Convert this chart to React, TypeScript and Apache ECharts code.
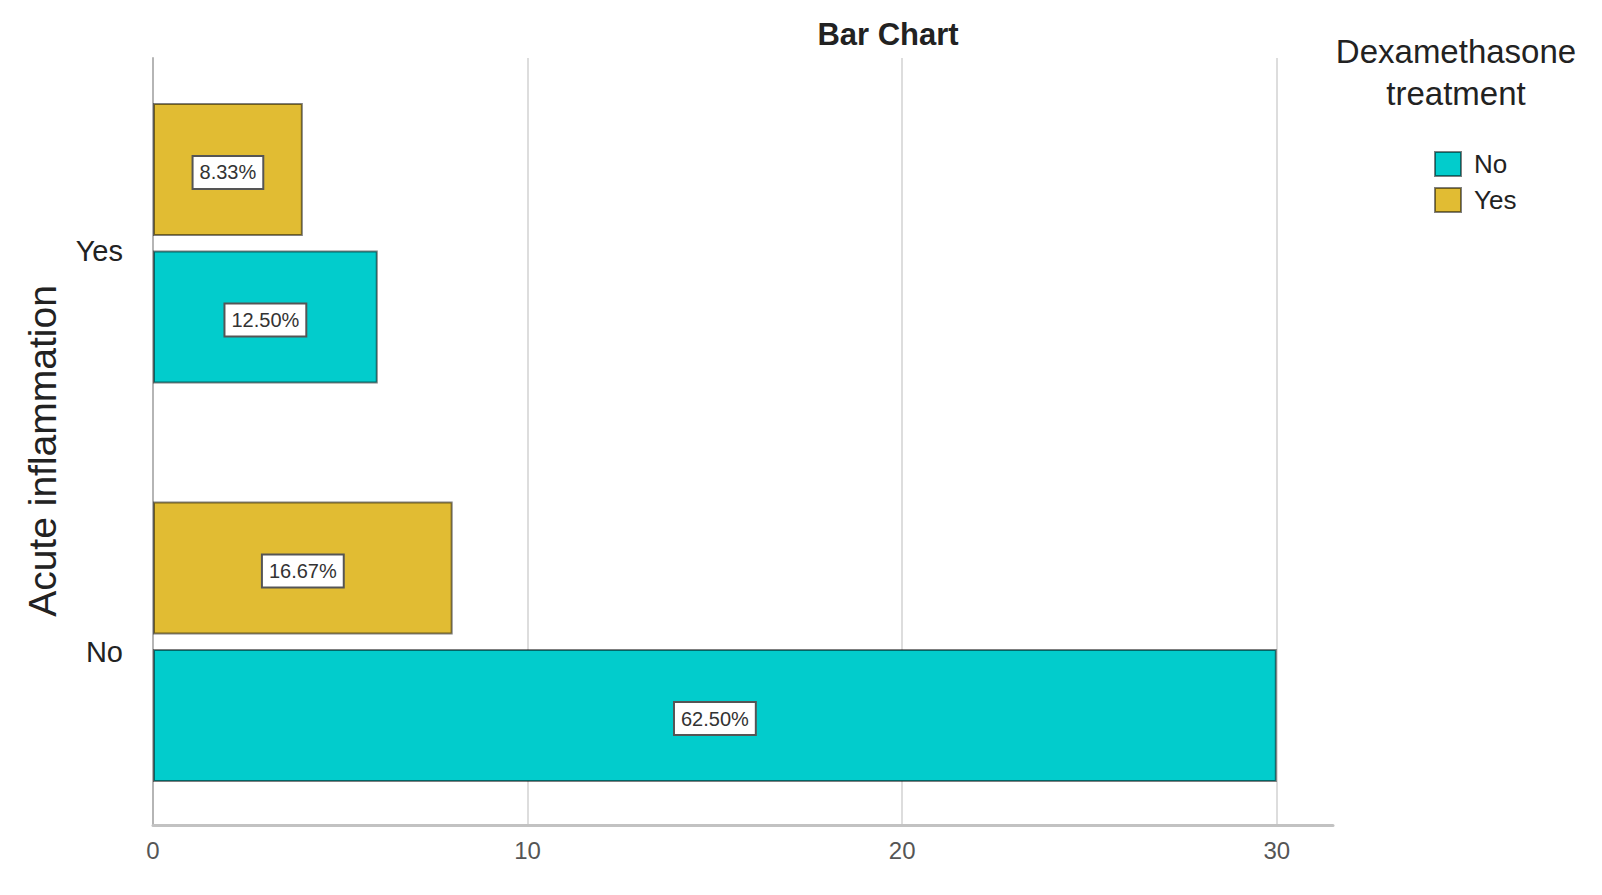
import React, { useEffect, useRef } from "react";
import * as echarts from "echarts";

const categories = ["No", "Yes"]; // Acute inflammation (bottom to top)
const seriesNames = ["No", "Yes"]; // Dexamethasone treatment
const countsDexNo = [30, 6];
const countsDexYes = [8, 4];
const xTicks = [0, 10, 20, 30];

const FONT = "'Liberation Sans', Arial, Helvetica, sans-serif";
const total = [...countsDexNo, ...countsDexYes].reduce((a, b) => a + b, 0);

export default function App() {
  const ref = useRef<HTMLDivElement>(null);
  useEffect(() => {
    if (!ref.current) return;
    const chart = echarts.init(ref.current, undefined, { renderer: "svg" });
    const labelCfg = {
      show: true,
      position: "inside",
      offset: [0, 3],
      formatter: (p: any) => ((p.value / total) * 100).toFixed(2) + "%",
      fontSize: 20,
      fontFamily: FONT,
      color: "#333",
      backgroundColor: "#ffffff",
      borderColor: "#555",
      borderWidth: 2,
      padding: [6, 6, 5, 6],
    };
    chart.setOption({
      animation: false,
      backgroundColor: "#ffffff",
      textStyle: { fontFamily: FONT },
      grid: [
        { left: 153, top: 58, width: 1180, height: 767 },
        { left: 153, top: 44, width: 1180, height: 797 },
        { left: 153, top: 50, width: 1180, height: 802 },
      ],
      xAxis: [
        {
          type: "value",
          gridIndex: 0,
          min: xTicks[0],
          max: 31.5,
          interval: xTicks[1] - xTicks[0],
          axisLine: { show: true, lineStyle: { color: "#c2c2c2", width: 3 } },
          axisTick: { show: false },
          splitLine: {
            show: true,
            showMinLine: false,
            showMaxLine: false,
            lineStyle: { color: "#d2d2d2", width: 1.5 },
          },
          axisLabel: {
            show: true,
            fontSize: 24,
            color: "#555",
            margin: 13,
            showMaxLabel: false,
            fontFamily: FONT,
          },
        },
        { type: "value", gridIndex: 1, min: xTicks[0], max: 31.5, show: false },
        { type: "value", gridIndex: 2, min: xTicks[0], max: 31.5, show: false },
      ],
      yAxis: [
        {
          type: "value",
          gridIndex: 0,
          axisLine: { show: true, lineStyle: { color: "#b5b5b5", width: 2 } },
          axisTick: { show: false },
          axisLabel: { show: false },
          splitLine: { show: false },
        },
        {
          type: "category",
          gridIndex: 1,
          data: categories,
          axisLine: { show: false },
          axisTick: { show: false },
          axisLabel: { show: false },
        },
        {
          type: "category",
          gridIndex: 2,
          data: categories,
          axisLine: { show: false },
          axisTick: { show: false },
          splitLine: { show: false },
          axisLabel: { fontSize: 29, color: "#222", margin: 30, fontFamily: FONT },
          name: "Acute inflammation",
          nameLocation: "middle",
          nameRotate: 90,
          nameGap: 91,
          nameTextStyle: { fontSize: 39, color: "#222", fontFamily: FONT },
        },
      ],
      legend: {
        orient: "vertical",
        left: 1434,
        top: 151,
        padding: 0,
        itemWidth: 26,
        itemHeight: 24,
        itemGap: 10,
        icon: "rect",
        data: seriesNames,
        textStyle: { fontSize: 26, color: "#222", fontFamily: FONT, padding: [0, 0, 0, 8] },
      },
      graphic: [
        {
          type: "text",
          x: 888,
          y: 34,
          style: {
            text: "Bar Chart",
            textAlign: "center",
            textVerticalAlign: "middle",
            align: "center",
            verticalAlign: "middle",
            fontSize: 31,
            fontWeight: "bold",
            fontFamily: FONT,
            fill: "#222",
          },
        },
        {
          type: "text",
          x: 1456,
          y: 72,
          style: {
            text: "Dexamethasone\ntreatment",
            textAlign: "center",
            textVerticalAlign: "middle",
            align: "center",
            verticalAlign: "middle",
            lineHeight: 42,
            fontSize: 33,
            fontFamily: FONT,
            fill: "#222",
          },
        },
      ],
      series: [
        {
          name: seriesNames[1],
          type: "bar",
          xAxisIndex: 1,
          yAxisIndex: 1,
          data: countsDexYes,
          barWidth: 133,
          barGap: "11%",
          itemStyle: { color: "#E1BC33", borderColor: "rgba(0,0,0,0.5)", borderWidth: 2 },
          label: labelCfg,
        },
        {
          name: seriesNames[0],
          type: "bar",
          xAxisIndex: 1,
          yAxisIndex: 1,
          data: countsDexNo,
          barWidth: 133,
          barGap: "11%",
          itemStyle: { color: "#02CCCC", borderColor: "rgba(0,0,0,0.5)", borderWidth: 2 },
          label: labelCfg,
        },
      ],
    });
    return () => chart.dispose();
  }, []);
  return <div ref={ref} style={{ width: 1602, height: 895, position: "absolute", left: 0, top: 0 }} />;
}
